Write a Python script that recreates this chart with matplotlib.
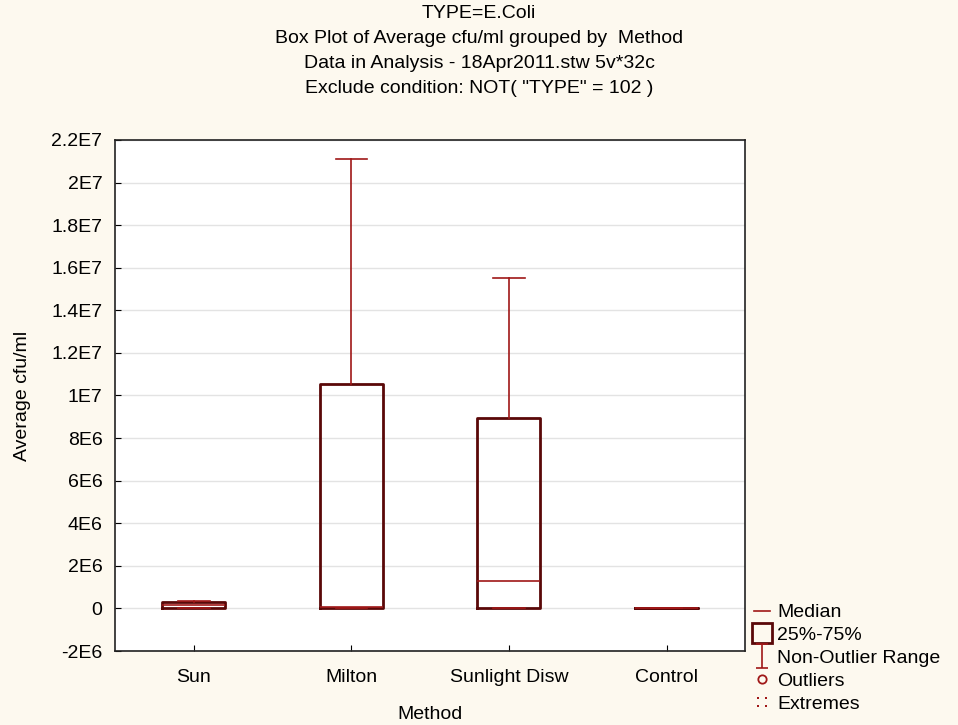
import matplotlib.pyplot as plt
import numpy as np
from matplotlib.lines import Line2D
from matplotlib.path import Path

plt.rcParams["font.family"] = ["Liberation Sans", "DejaVu Sans"]

methods = ["Sun", "Milton", "Sunlight Disw", "Control"]
# box plot statistics (cfu/ml)
whisker_low = [0, 0, 0, 0]
q1 = [3e4, 4e4, 3e4, 0]
median = [1.5e5, 8e4, 1.28e6, 0]
q3 = [2.8e5, 1.056e7, 8.95e6, 0]
whisker_high = [3.3e5, 2.11e7, 1.553e7, 0]

yticks = np.arange(-2e6, 2.21e7, 2e6)
ytick_labels = ["-2E6", "0", "2E6", "4E6", "6E6", "8E6", "1E7",
                "1.2E7", "1.4E7", "1.6E7", "1.8E7", "2E7", "2.2E7"]

box_col = "#5a0808"
red = "#a01818"
bg = "#fdf9ef"
fs = 14

fig = plt.figure(figsize=(9.58, 7.25), dpi=100, facecolor=bg)
ax = fig.add_axes([0.120, 0.102, 0.658, 0.705])

stats = []
for i, name in enumerate(methods):
    stats.append(dict(label=name, whislo=whisker_low[i], q1=q1[i], med=median[i],
                      q3=q3[i], whishi=whisker_high[i], fliers=[]))

ax.bxp(stats, positions=range(len(methods)), widths=0.4, showfliers=False,
       boxprops=dict(color=box_col, linewidth=2),
       whiskerprops=dict(color=red, linewidth=1.2),
       capprops=dict(color=red, linewidth=1.2),
       medianprops=dict(color=red, linewidth=1.2),
       capwidths=0.2)

ax.set_xlim(-0.5, 3.5)
ax.set_ylim(-2e6, 2.2e7)
ax.set_yticks(yticks)
ax.set_yticklabels(ytick_labels)
ax.yaxis.grid(True, color="#e3e3e3", linewidth=1)
ax.set_axisbelow(True)
ax.tick_params(direction="in", length=4, labelsize=fs)
ax.tick_params(axis="y", pad=9)
ax.tick_params(axis="x", pad=13)
for s in ax.spines.values():
    s.set_color("#222222")
    s.set_linewidth(1.2)

ax.set_xlabel("Method", fontsize=fs, labelpad=14)
ax.set_ylabel("Average cfu/ml", fontsize=fs, labelpad=15)

title_lines = ["TYPE=E.Coli",
               "Box Plot of Average cfu/ml grouped by  Method",
               "Data in Analysis - 18Apr2011.stw 5v*32c",
               "Exclude condition: NOT( \"TYPE\" = 102 )"]
for k, t in enumerate(title_lines):
    fig.text(0.5, 1 - (13 + 25.3 * k) / 725, t, ha="center", va="center", fontsize=fs)

# legend
ibeam = Path([(-0.5, 1), (0.5, 1), (0, 1), (0, -1), (-0.5, -1), (0.5, -1)],
             [Path.MOVETO, Path.LINETO, Path.MOVETO, Path.LINETO, Path.MOVETO, Path.LINETO])


def sq(cx, cy, h=0.25):
    return [(cx - h, cy - h), (cx + h, cy - h), (cx + h, cy + h), (cx - h, cy + h), (cx - h, cy - h)]


dots = Path(sq(-1, 1) + sq(1, 1) + sq(-1, -1) + sq(1, -1),
            [Path.MOVETO] + [Path.LINETO] * 3 + [Path.CLOSEPOLY]
            + ([Path.MOVETO] + [Path.LINETO] * 3 + [Path.CLOSEPOLY]) * 3)
handles = [
    Line2D([], [], color=red, linewidth=1.2),
    Line2D([], [], linestyle="", marker="s", markersize=14, markerfacecolor="none",
           markeredgecolor=box_col, markeredgewidth=2),
    Line2D([], [], linestyle="", marker=ibeam, markersize=17, markeredgecolor=red,
           markeredgewidth=1.2, color=red),
    Line2D([], [], linestyle="", marker="o", markersize=6, markerfacecolor="none",
           markeredgecolor=red, markeredgewidth=1.3),
    Line2D([], [], linestyle="", marker=dots, markersize=7, markeredgecolor=red,
           markerfacecolor=red, markeredgewidth=0, color=red),
]
labels = ["Median", "25%-75%", "Non-Outlier Range", "Outliers", "Extremes"]
fig.legend(handles, labels, loc="upper left", bbox_to_anchor=(0.779, 0.178),
           frameon=False, fontsize=fs, handlelength=0.8, handletextpad=0.4,
           labelspacing=0.27, borderaxespad=0)

fig.savefig("out.png", dpi=100, facecolor=bg)
